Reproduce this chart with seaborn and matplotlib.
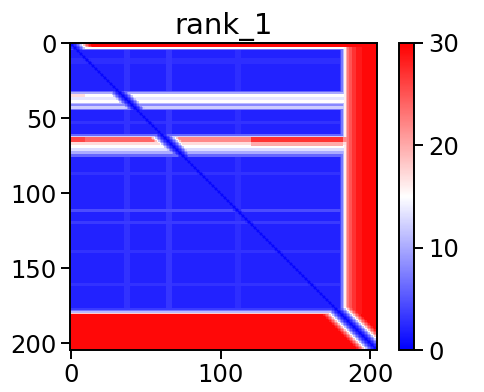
import numpy as np
import seaborn as sns
import matplotlib
matplotlib.use('Agg')
import matplotlib.pyplot as plt

# number of residues
n_res = 205

# per-row (aligned residue) error levels: segment start index and level
row_starts = [0, 3, 4, 5, 10, 14, 32, 33, 34, 36, 38, 40, 41, 42, 44, 45,
              52, 54, 61, 62, 63, 66, 68, 70, 72, 74, 76, 86, 88,
              111, 113, 119, 121, 138, 140, 160, 162, 177, 178, 179, 180, 181]
row_levels = [29.5, 15, 7, 2, 2.8, 2, 6, 10, 15, 13.5, 15, 11, 8, 12, 7, 2,
              3, 2, 6, 12, 22, 17, 15, 13, 10, 6, 2, 3, 2,
              4.5, 2, 3.5, 2, 3, 2, 3, 2, 3.5, 7, 11, 18, 29.5]

# per-column (scored residue) error levels
col_starts = [0, 36, 40, 64, 68, 110, 114, 180, 181, 182, 183, 184, 185,
              186, 188, 191, 195]
col_levels = [2, 3, 2, 3.2, 2, 2.8, 2, 4, 7, 11, 16, 20, 23,
              25, 27, 28.5, 29.5]

# extra patches inside the loose bands: row0, row1, col0, col1, level
patch_rows0 = [63, 63, 66, 63, 34]
patch_rows1 = [66, 66, 69, 66, 36]
patch_cols0 = [121, 0, 121, 10, 0]
patch_cols1 = [182, 10, 182, 60, 10]
patch_levels = [27, 26, 20, 24, 17]

# error vs distance from the diagonal
diag_levels = [0.4, 1.4, 2.5, 4, 6, 8.5, 11.5, 15, 18.5, 21.5, 24, 26, 28, 29.5]


def expand(starts, levels, n):
    bounds = list(starts[1:]) + [n]
    return np.repeat(levels, np.diff([starts[0]] + bounds))


row_prof = expand(row_starts, row_levels, n_res)
col_prof = expand(col_starts, col_levels, n_res)

pae = np.maximum(row_prof[:, None], col_prof[None, :]).astype(float)
for r0, r1, c0, c1, lv in zip(patch_rows0, patch_rows1, patch_cols0, patch_cols1, patch_levels):
    pae[r0:r1, c0:c1] = np.maximum(pae[r0:r1, c0:c1], lv)

idx = np.arange(n_res)
dist = np.abs(idx[:, None] - idx[None, :])
diag = np.array(diag_levels + [30] * n_res)[dist]
pae = np.minimum(pae, diag)

fig = plt.figure(figsize=(4.84, 3.92), dpi=100)
ax = fig.add_axes([70 / 484, 1 - 350 / 392, 307 / 484, 307.5 / 392])
cax = fig.add_axes([399 / 484, 1 - 350 / 392, 15 / 484, 307 / 392])

sns.heatmap(pae, cmap='bwr', vmin=0, vmax=30, ax=ax, cbar_ax=cax,
            xticklabels=False, yticklabels=False, rasterized=True)

ax.set_xticks([0.5, 100.5, 200.5])
ax.set_xticklabels(['0', '100', '200'])
ax.set_yticks([0.5, 50.5, 100.5, 150.5, 200.5])
ax.set_yticklabels(['0', '50', '100', '150', '200'], rotation=0)
for s in ax.spines.values():
    s.set_visible(True)
    s.set_linewidth(1.4)
ax.tick_params(labelsize=17.5, length=6.5, width=1.4, pad=3)
ax.set_title('rank_1', fontsize=21, pad=6)

cax.tick_params(labelsize=17.5, length=6.5, width=1.4)
cax.set_yticks([0, 10, 20, 30])
cb = ax.collections[0].colorbar
cb.outline.set_visible(True)
cb.outline.set_linewidth(1.4)

fig.savefig('out.png', dpi=100)
